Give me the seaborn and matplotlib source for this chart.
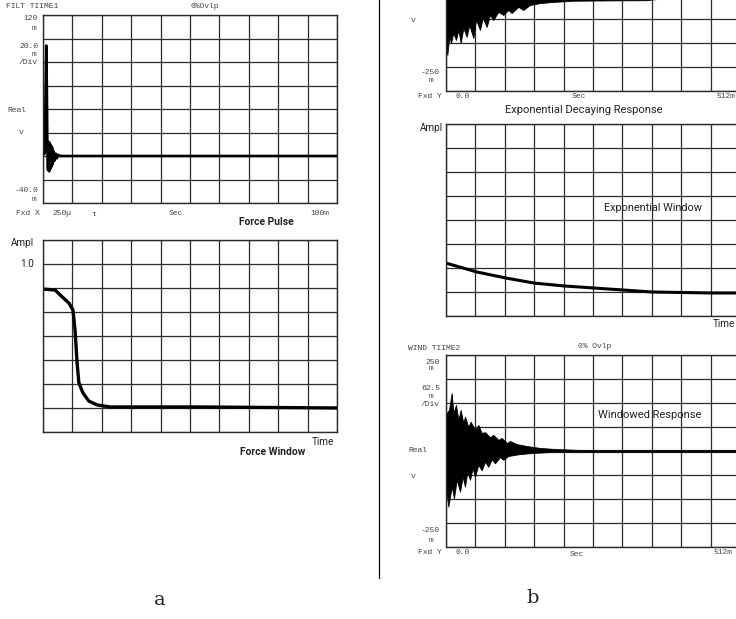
import numpy as np
import matplotlib
matplotlib.use("Agg")
import matplotlib.pyplot as plt
import seaborn as sns

# ---- data ----
# a) force pulse, time in ms, value in mV (m)
pulse_t = [0.0, 0.3, 0.5, 0.8, 1.1, 1.3, 1.5, 1.7, 1.9, 2.1, 2.3, 2.5, 2.7,
           2.9, 3.1, 3.3, 3.6, 3.9, 4.3, 4.7, 5.2, 5.8, 100.0]
pulse_v = [0, 10, 2, 40, 94, 60, 5, -12, 12, -13, 11, -11, 9,
           -9, 7, -7, 4, -4, 2, -2, 1, 0, 0]

# a) force window, time in divisions, amplitude (1.0 = 7 divisions)
fwin_t = [0.0, 0.41, 0.68, 0.88, 1.02, 1.09, 1.16, 1.22, 1.36, 1.56, 1.84,
          2.28, 5.34, 10.0]
fwin_a = [0.851, 0.845, 0.80, 0.768, 0.726, 0.607, 0.41, 0.292, 0.232,
          0.184, 0.161, 0.149, 0.149, 0.143]

# b) exponential decaying response, lower envelope (ms, mV)
decay_t = [0.0, 2.3, 5.7, 8.7, 12.7, 17.4, 21.5, 25.6, 30.2, 36.0, 40.6,
           47.6, 52.2, 59.2, 63.9, 70.9, 76.6, 82.4, 91.1, 99.8, 108.5,
           114.3, 125.9, 134.6, 146.3, 163.7, 186.9, 221.7, 250.8, 290.8,
           350.0, 380.0, 512.0]
decay_lo = [-140, -156, -109, -125, -99, -117, -91, -125, -86, -109, -78,
            -112, -65, -91, -60, -83, -52, -65, -44, -52, -39,
            -47, -31, -39, -26, -21, -18, -15, -14.5, -14,
            -13.6, -8, -5]

# b) exponential window (divisions, amplitude)
ewin_t = [0, 1.05, 2.04, 3.0, 4.0, 5.0, 6.0, 7.0, 8.0, 9.0, 10.0]
ewin_a = [0.315, 0.262, 0.226, 0.196, 0.179, 0.167, 0.155, 0.143, 0.140,
          0.137, 0.137]

# b) windowed response envelopes (ms, mV)
wr_hi_t = [0.0, 1.2, 5.2, 9.9, 12.8, 17.4, 21.5, 25.5, 30.2, 33.1, 38.9,
           43.0, 50.5, 56.3, 62.1, 67.9, 76.6, 82.4, 91.1, 96.9, 105.7,
           111.5, 123.1, 140.5, 163.7, 192.7, 233.0, 512.0]
wr_hi = [95, 99, 107, 151, 99, 120, 81, 107, 73, 89, 63,
         76, 55, 68, 47, 49, 36, 42, 29, 34, 21,
         26, 18, 13, 8, 5, 3, 3]
wr_lo_t = [0.0, 4.1, 9.9, 13.9, 18.6, 24.4, 29.0, 33.1, 37.1, 41.8, 46.4,
           50.5, 56.3, 62.1, 67.9, 73.7, 79.5, 85.3, 94.0, 99.8, 108.5,
           128.9, 152.1, 181.1, 233.0, 512.0]
wr_lo = [-100, -145, -93, -123, -75, -106, -67, -93, -54, -75, -45,
         -67, -36, -50, -28, -41, -22, -32, -16, -23, -13,
         -8, -5, -3, -3, -3]

W, H = 736, 619
sns.set_style("white")
fig = plt.figure(figsize=(W / 100, H / 100), dpi=100)

MONO = ["Liberation Mono", "DejaVu Sans Mono"]
NARROW = ["Roboto", "Liberation Sans", "DejaVu Sans"]
GRID = "#2b2b2b"


def fx(px):
    return px / W


def fy(py):
    return 1 - py / H


def panel(x0, y0, x1, y1):
    ax = fig.add_axes([fx(x0), fy(y1), (x1 - x0) / W, (y1 - y0) / H])
    ax.set_facecolor("white")
    for s in ax.spines.values():
        s.set_color(GRID)
        s.set_linewidth(1.0)
    ax.grid(True, color=GRID, lw=0.9)
    ax.set_axisbelow(True)
    ax.tick_params(length=0, labelbottom=False, labelleft=False)
    ax.set_xlabel("")
    ax.set_ylabel("")
    return ax


def mono(px, py, s, ha="left"):
    fig.text(fx(px), fy(py), s, family=MONO, fontsize=5.8, color="#444",
             ha=ha, va="center")


def sans(px, py, s, ha="center", size=8.5, weight="normal"):
    fig.text(fx(px), fy(py), s, family=NARROW, fontsize=size, color="#222",
             ha=ha, va="center", weight=weight)


# ---------- a) Force pulse ----------
ax = panel(43, 15, 337, 203)
sns.lineplot(x=pulse_t, y=pulse_v, ax=ax, color="black", lw=1.9,
             estimator=None, sort=False)
ax.set_xlim(0, 100)
ax.set_ylim(-40, 120)
ax.set_xticks(np.linspace(0, 100, 11))
ax.set_yticks(np.linspace(-40, 120, 9))
ax.tick_params(labelbottom=False, labelleft=False)

mono(6, 7, "FILT TIIME1")
mono(205, 7, "0%Ovlp", ha="center")
mono(38, 19, "120", ha="right"); mono(34, 28, "m", ha="center")
mono(38, 47, "20.0", ha="right"); mono(34, 55, "m", ha="center")
mono(38, 63, "/Div", ha="right")
mono(7, 110, "Real"); mono(21, 132, "v", ha="center")
mono(38, 191, "-40.0", ha="right"); mono(34, 199, "m", ha="center")
mono(16, 213, "Fxd X"); mono(52, 213, "250\u00b5")
mono(94, 215, "\u03c4", ha="center")
mono(176, 213, "Sec", ha="center"); mono(320, 213, "100m", ha="center")
sans(266, 222, "Force Pulse", weight="bold", size=7.4)

# ---------- a) Force window ----------
ax = panel(43, 240, 337, 432)
sns.lineplot(x=fwin_t, y=fwin_a, ax=ax, color="black", lw=2.4,
             estimator=None, sort=False)
ax.set_xlim(0, 10)
ax.set_ylim(0, 8 / 7)
ax.set_xticks(np.arange(0, 11))
ax.set_yticks(np.arange(0, 9) / 7)
ax.tick_params(labelbottom=False, labelleft=False)
sans(11, 243, "Ampl", ha="left", size=7.2)
sans(27, 264, "1.0", size=7.2)
sans(323, 442, "Time", size=7.2)
sans(273, 452, "Force Window", weight="bold", size=7.4)

# ---------- b) Exponential decaying response (top cut off) ----------
ax = panel(446, -101, 740, 91)
decay_hi = [-v for v in decay_lo]
ax.fill_between(decay_t, decay_lo, decay_hi, color="black", lw=0.6,
                edgecolor="black")
ax.set_xlim(0, 512)
ax.set_ylim(-250, 250)
ax.set_xticks(np.linspace(0, 512, 11))
ax.set_yticks(np.linspace(-250, 250, 9))
ax.tick_params(labelbottom=False, labelleft=False)
mono(413, 20, "v", ha="center")
mono(440, 72, "-250", ha="right"); mono(431, 81, "m", ha="center")
mono(418, 97, "Fxd Y"); mono(463, 97, "0.0", ha="center")
mono(579, 97, "Sec", ha="center"); mono(726, 97, "512m", ha="center")
sans(584, 110, "Exponential Decaying Response", size=8.0)

# ---------- b) Exponential window ----------
ax = panel(446, 124, 740, 316)
sns.lineplot(x=ewin_t, y=ewin_a, ax=ax, color="black", lw=2.2,
             estimator=None, sort=False)
ax.set_xlim(0, 10)
ax.set_ylim(0, 8 / 7)
ax.set_xticks(np.arange(0, 11))
ax.set_yticks(np.arange(0, 9) / 7)
ax.tick_params(labelbottom=False, labelleft=False)
sans(443, 128, "Ampl", ha="right", size=7.2)
sans(653, 208, "Exponential Window", size=7.8)
sans(735, 324, "Time", ha="right", size=7.2)

# ---------- b) Windowed response ----------
ax = panel(446, 355, 740, 547)
ax.fill_between(wr_hi_t, 0, wr_hi, color="black", lw=0.6, edgecolor="black")
ax.fill_between(wr_lo_t, wr_lo, 0, color="black", lw=0.6, edgecolor="black")
ax.set_xlim(0, 512)
ax.set_ylim(-250, 250)
ax.set_xticks(np.linspace(0, 512, 11))
ax.set_yticks(np.linspace(-250, 250, 9))
ax.tick_params(labelbottom=False, labelleft=False)
mono(408, 349, "WIND TIIME2")
mono(595, 346, "0% Ovlp", ha="center")
mono(440, 362, "250", ha="right"); mono(431, 369, "m", ha="center")
mono(440, 388, "62.5", ha="right"); mono(431, 397, "m", ha="center")
mono(440, 405, "/Div", ha="right")
mono(408, 451, "Real"); mono(413, 477, "v", ha="center")
mono(440, 531, "-250", ha="right"); mono(431, 540, "m", ha="center")
mono(418, 553, "Fxd Y"); mono(463, 553, "0.0", ha="center")
mono(577, 555, "Sec", ha="center"); mono(723, 553, "512m", ha="center")
sans(650, 415, "Windowed Response", size=8.0)

# separator and sub-figure letters
fig.add_artist(plt.Line2D([fx(379), fx(379)], [fy(0), fy(578)],
                          color="black", lw=0.9))
fig.text(fx(160), fy(600), "a", family=["DejaVu Serif"], fontsize=14,
         ha="center", va="center")
fig.text(fx(533), fy(598), "b", family=["DejaVu Serif"], fontsize=14,
         ha="center", va="center")

fig.savefig("out.png", dpi=100)
